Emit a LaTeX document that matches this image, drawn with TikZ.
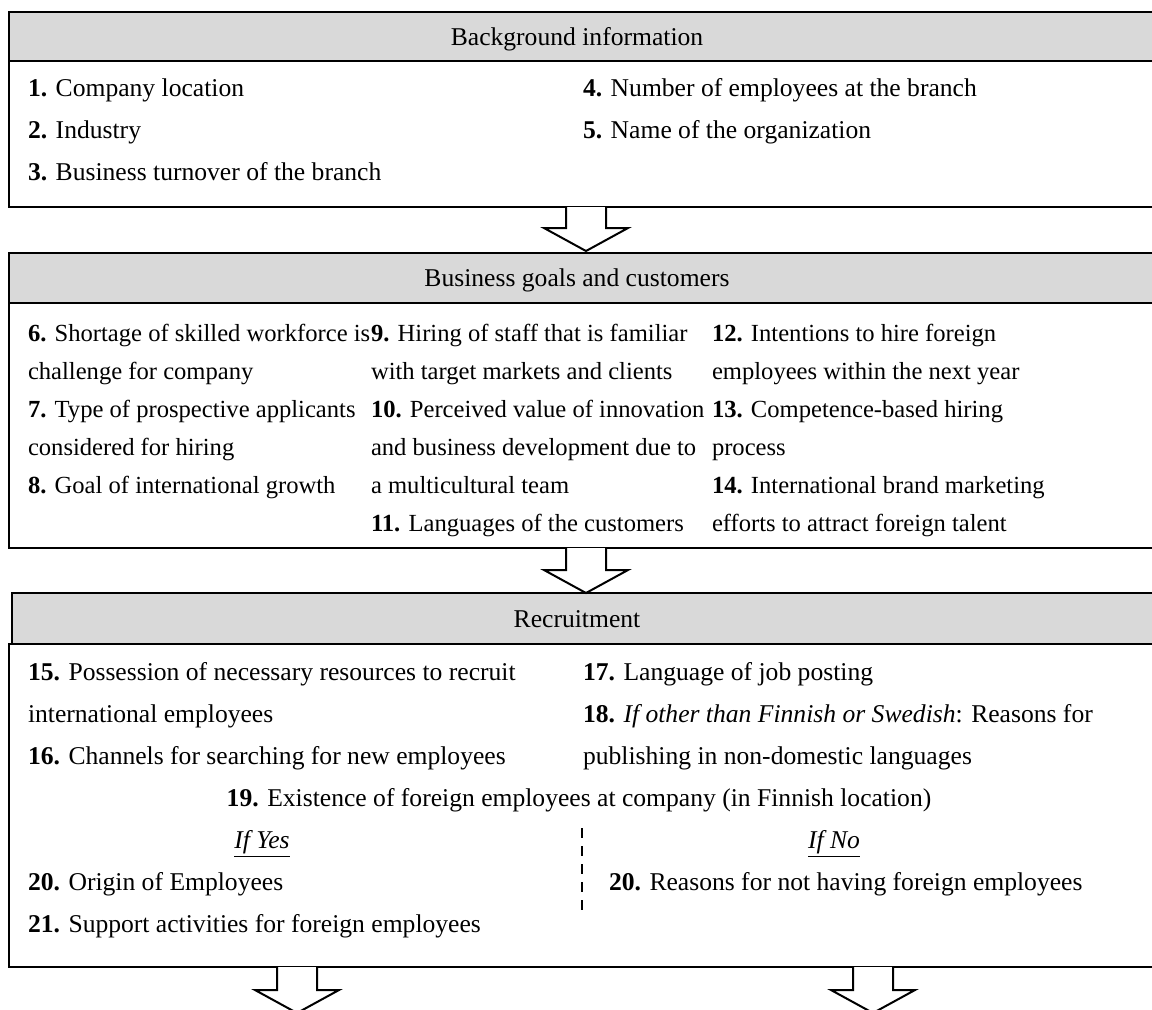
\documentclass[tikz,border=0pt]{standalone}
\usepackage{fontspec}
\setmainfont{Liberation Serif}
\definecolor{headgray}{HTML}{D9D9D9}
\begin{document}
\begin{tikzpicture}[x=0.5pt,y=-0.5pt,
  every node/.style={inner sep=0pt, outer sep=0pt, font=\fontsize{12.8}{15}\selectfont},
  item/.style={anchor=base west},
  ctext/.style={anchor=base},
  narrow/.style={font=\fontsize{12.3}{15}\selectfont},
  headbox/.style={fill=headgray, draw=black, line width=1.2pt},
  bodybox/.style={draw=black, line width=1pt},
  blockarrow/.style={draw=black, line width=1pt, fill=white, line join=miter},
  split/.style={draw=black, line width=0.8pt, dash pattern=on 5pt off 4pt}]
\useasboundingbox (0,0) rectangle (1152,1009);
\clip (0,0) rectangle (1152,1009);

% ---------- Background information ----------
\draw[bodybox] (9,61) rectangle (1170,207);
\draw[headbox] (9,12) rectangle (1170,61);
\node[ctext] (t1) at (577,45) {Background information};
\node[item] (i1) at (28,96) {\textbf{1.} Company location};
\node[item] (i2) at (28,138) {\textbf{2.} Industry};
\node[item] (i3) at (28,180) {\textbf{3.} Business turnover of the branch};
\node[item] (i4) at (583,96) {\textbf{4.} Number of employees at the branch};
\node[item] (i5) at (583,138) {\textbf{5.} Name of the organization};

% ---------- Business goals and customers ----------
\draw[bodybox] (9,303) rectangle (1170,548);
\draw[headbox] (9,253) rectangle (1170,303);
\node[ctext] (t2) at (577,286) {Business goals and customers};
\begin{scope}[every node/.append style={narrow}]
\node[item] (i6) at (28,341) {\textbf{6.} Shortage of skilled workforce is};
\node[item] (i6b) at (28,379) {challenge for company};
\node[item] (i7) at (28,417) {\textbf{7.} Type of prospective applicants};
\node[item] (i7b) at (28,455) {considered for hiring};
\node[item] (i8) at (28,493) {\textbf{8.} Goal of international growth};
\node[item] (i9) at (371,341) {\textbf{9.} Hiring of staff that is familiar};
\node[item] (i9b) at (371,379) {with target markets and clients};
\node[item] (i10) at (371,417) {\textbf{10.} Perceived value of innovation};
\node[item] (i10b) at (371,455) {and business development due to};
\node[item] (i10c) at (371,493) {a multicultural team};
\node[item] (i11) at (371,531) {\textbf{11.} Languages of the customers};
\node[item] (i12) at (712,341) {\textbf{12.} Intentions to hire foreign};
\node[item] (i12b) at (712,379) {employees within the next year};
\node[item] (i13) at (712,417) {\textbf{13.} Competence-based hiring};
\node[item] (i13b) at (712,455) {process};
\node[item] (i14) at (712,493) {\textbf{14.} International brand marketing};
\node[item] (i14b) at (712,531) {efforts to attract foreign talent};
\end{scope}

% ---------- Recruitment ----------
\draw[bodybox] (9,644) rectangle (1170,967);
\draw[headbox] (12,593) rectangle (1170,644);
\node[ctext] (t3) at (577,627) {Recruitment};
\node[item] (i15) at (28,680) {\textbf{15.} Possession of necessary resources to recruit};
\node[item] (i15b) at (28,722) {international employees};
\node[item] (i16) at (28,764) {\textbf{16.} Channels for searching for new employees};
\node[item] (i17) at (583,680) {\textbf{17.} Language of job posting};
\node[item] (i18) at (583,722) {\textbf{18.} \textit{If other than Finnish or Swedish}: Reasons for};
\node[item] (i18b) at (583,764) {publishing in non-domestic languages};
\node[ctext] (i19) at (579,806) {\textbf{19.} Existence of foreign employees at company (in Finnish location)};
\node[ctext] (yes) at (262,848) {\underline{\textit{If Yes}}};
\node[ctext] (no) at (834,848) {\underline{\textit{If No}}};
\node[item] (i20) at (28,890) {\textbf{20.} Origin of Employees};
\node[item] (i21) at (28,932) {\textbf{21.} Support activities for foreign employees};
\node[item] (i20n) at (609,890) {\textbf{20.} Reasons for not having foreign employees};
\coordinate (dtop) at (582,828);
\coordinate (dbot) at (582,915);
\draw[split] (dtop) -- (dbot);

% ---------- block arrows between the stages ----------
\foreach \cx/\top/\base/\tip in {586/207/228/251, 586/548/570/593, 297/967/990/1013, 873/967/990/1013}{
  \draw[blockarrow] (\cx-20,\top) -- (\cx-20,\base) -- (\cx-42,\base) -- (\cx,\tip)
    -- (\cx+42,\base) -- (\cx+20,\base) -- (\cx+20,\top);
}
\end{tikzpicture}
\end{document}
